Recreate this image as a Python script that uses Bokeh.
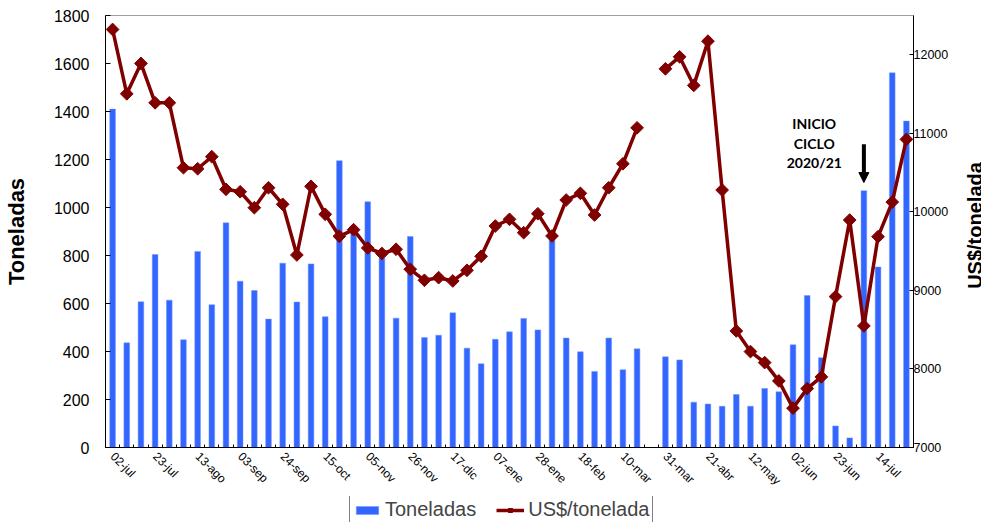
import math
from bokeh.plotting import figure
from bokeh.layouts import column, row
from bokeh.models import (Range1d, LinearAxis, FixedTicker, Legend, LegendItem,
                          Arrow, NormalHead, Label, ColumnDataSource)
from bokeh.core.properties import value
from bokeh.embed import file_html
from bokeh.resources import INLINE

NaN = float("nan")

weeks = ["02-jul", "09-jul", "16-jul", "23-jul", "30-jul", "06-ago", "13-ago", "20-ago",
         "27-ago", "03-sep", "10-sep", "17-sep", "24-sep", "01-oct", "08-oct", "15-oct",
         "22-oct", "29-oct", "05-nov", "12-nov", "19-nov", "26-nov", "03-dic", "10-dic",
         "17-dic", "24-dic", "31-dic", "07-ene", "14-ene", "21-ene", "28-ene", "04-feb",
         "11-feb", "18-feb", "25-feb", "03-mar", "10-mar", "17-mar", "24-mar", "31-mar",
         "07-abr", "14-abr", "21-abr", "28-abr", "05-may", "12-may", "19-may", "26-may",
         "02-jun", "09-jun", "16-jun", "23-jun", "30-jun", "07-jul", "14-jul", "21-jul",
         "28-jul"]

toneladas = [1410, 436, 607, 804, 614, 449, 817, 595, 936, 693, 654, 535, 768, 606, 765, 545,
             1195, 890, 1024, 790, 539, 879, 458, 468, 561, 414, 349, 451, 482, 538, 490, 875,
             456, 399, 317, 456, 324, 411, NaN, 378, 365, 189, 181, 172, 221, 172, 246, 232,
             428, 633, 374, 90, 40, 1070, 752, 1561, 1360]

usd_ton = [12322, 11503, 11890, 11388, 11388, 10562, 10549, 10702, 10287, 10256, 10053, 10307,
           10096, 9451, 10325, 9969, 9689, 9773, 9540, 9470, 9524, 9269, 9129, 9162, 9120,
           9256, 9434, 9820, 9905, 9735, 9976, 9693, 10151, 10236, 9960, 10307, 10612, 11070,
           NaN, 11821, 11974, 11610, 12173, 10278, 8484, 8221, 8081, 7848, 7501, 7750, 7899,
           8921, 9896, 8548, 9684, 10125, 10923]

label_step = 3
left_ticks = list(range(0, 1801, 200))
right_ticks = list(range(7000, 12001, 1000))

annot_lines = ["INICIO", "CICLO", "2020/21"]
annot_x = 49.5
annot_y = [1350, 1268, 1187]
arrow_x = 53
arrow_y = (1264, 1104)

BLUE = "#3366FF"
RED = "#800000"
FONT = "Liberation Sans"

MAIN_W, MAIN_H = 955, 496
B_TOP, B_BOTTOM = 15, 49
TITLE_W = 26
STRIP_H = 26

x = list(range(len(weeks)))
src = ColumnDataSource(dict(x=x, ton=toneladas, usd=usd_ton))

p = figure(width=MAIN_W, height=MAIN_H, output_backend="svg", toolbar_location=None,
           x_range=Range1d(-0.5, len(weeks) - 0.5), y_range=Range1d(0, 1800),
           min_border_left=100, min_border_right=42, min_border_top=B_TOP,
           min_border_bottom=B_BOTTOM)
p.extra_y_ranges = {"usd": Range1d(7000, 12500)}
p.xgrid.visible = False
p.ygrid.visible = False
p.outline_line_color = "#A0A0A0"
p.background_fill_color = "white"
p.border_fill_color = "white"

bars = p.vbar(x="x", top="ton", width=0.4, source=src, fill_color=BLUE, line_color="#6F94FF",
              line_width=0.5)
line = p.line(x="x", y="usd", source=src, y_range_name="usd", line_color=RED, line_width=3.5)
pts = p.scatter(x="x", y="usd", source=src, y_range_name="usd", marker="square",
                angle=math.pi / 4, size=9, fill_color=RED, line_color=RED)

# x axis
xa = p.xaxis[0]
major = list(range(0, len(weeks), label_step))
xa.ticker = FixedTicker(ticks=major, minor_ticks=[i - 0.5 for i in range(len(weeks) + 1)])
xa.major_label_overrides = {i: weeks[i] for i in major}
xa.major_label_orientation = -math.pi / 4
xa.major_label_text_font = FONT
xa.major_label_text_font_size = "12px"
xa.major_label_text_color = "black"
xa.major_label_standoff = 7
xa.major_tick_in = 0
xa.major_tick_out = 0
xa.minor_tick_in = 3
xa.minor_tick_out = 0
xa.axis_line_color = "black"
xa.minor_tick_line_color = "black"

# left axis
ya = p.yaxis[0]
ya.ticker = FixedTicker(ticks=left_ticks)
ya.major_label_text_font = FONT
ya.major_label_text_font_size = "16px"
ya.major_label_text_color = "black"
ya.major_label_standoff = 16
ya.major_tick_in = 5
ya.major_tick_out = 0
ya.minor_tick_in = 0
ya.minor_tick_out = 0
ya.minor_tick_line_color = None
ya.axis_line_color = "black"
ya.axis_label = "Toneladas"
ya.axis_label_text_font = FONT
ya.axis_label_text_font_style = "bold"
ya.axis_label_text_font_size = "22px"
ya.axis_label_text_color = "black"
ya.axis_label_standoff = 22

# right axis
ra = LinearAxis(y_range_name="usd", ticker=FixedTicker(ticks=right_ticks))
ra.major_label_text_font = FONT
ra.major_label_text_font_size = "12.5px"
ra.major_label_text_color = "black"
ra.major_label_standoff = 0
ra.major_tick_in = 4
ra.major_tick_out = 0
ra.minor_tick_in = 0
ra.minor_tick_out = 0
ra.minor_tick_line_color = None
ra.axis_line_color = "black"
p.add_layout(ra, "right")

# annotation
p.text(x=[annot_x] * len(annot_lines), y=annot_y, text=annot_lines,
       text_font=value("Lato"), text_font_style="bold", text_font_size="14px",
       text_align="center", text_baseline="middle", text_color="black")
p.add_layout(Arrow(x_start=arrow_x, y_start=arrow_y[0], x_end=arrow_x, y_end=arrow_y[1],
                   line_color="black", line_width=4,
                   end=NormalHead(size=10, fill_color="black", line_color="black")))

# right-hand axis title (reads bottom to top)
rt = figure(width=TITLE_W, height=MAIN_H, output_backend="svg", toolbar_location=None,
            x_axis_type=None, y_axis_type=None, min_border_left=0, min_border_right=0,
            min_border_top=B_TOP, min_border_bottom=B_BOTTOM,
            x_range=Range1d(0, 1), y_range=Range1d(0, 1))
rt.outline_line_color = None
rt.xgrid.visible = False
rt.ygrid.visible = False
rt.add_layout(Label(x=19.5, y=MAIN_H - B_BOTTOM - 225, x_units="screen", y_units="screen",
                    text="US$/tonelada", angle=math.pi / 2, text_align="center",
                    text_baseline="alphabetic", text_font=FONT, text_font_style="bold",
                    text_font_size="20px", text_color="black"))

# legend strip below the chart
lg = figure(width=MAIN_W + TITLE_W, height=STRIP_H, output_backend="svg",
            toolbar_location=None, x_axis_type=None, y_axis_type=None, min_border=0,
            x_range=Range1d(-1000, -999), y_range=Range1d(-1000, -999))
lg.outline_line_color = None
lg.xgrid.visible = False
lg.ygrid.visible = False
lg_bar = lg.vbar(x="x", top="ton", width=0.4, source=src, fill_color=BLUE,
                 line_color="#6F94FF", line_width=0.5)
lg_line = lg.line(x="x", y="usd", source=src, line_color=RED, line_width=3.5)
lg_pts = lg.scatter(x="x", y="usd", source=src, marker="square", angle=math.pi / 4, size=8,
                    fill_color=RED, line_color=RED)

legend = Legend(items=[LegendItem(label="Toneladas", renderers=[lg_bar]),
                       LegendItem(label="US$/tonelada", renderers=[lg_line, lg_pts])],
                orientation="horizontal", location=(349, -3),
                label_text_font=FONT, label_text_font_size="20px",
                glyph_width=28, glyph_height=10, label_standoff=4, spacing=20,
                padding=3, margin=0, border_line_color="black", border_line_width=1,
                background_fill_alpha=1.0)
lg.add_layout(legend, "center")

layout = column(row(p, rt, spacing=0), lg, spacing=0)
open("out.html", "w").write(file_html(layout, INLINE))
